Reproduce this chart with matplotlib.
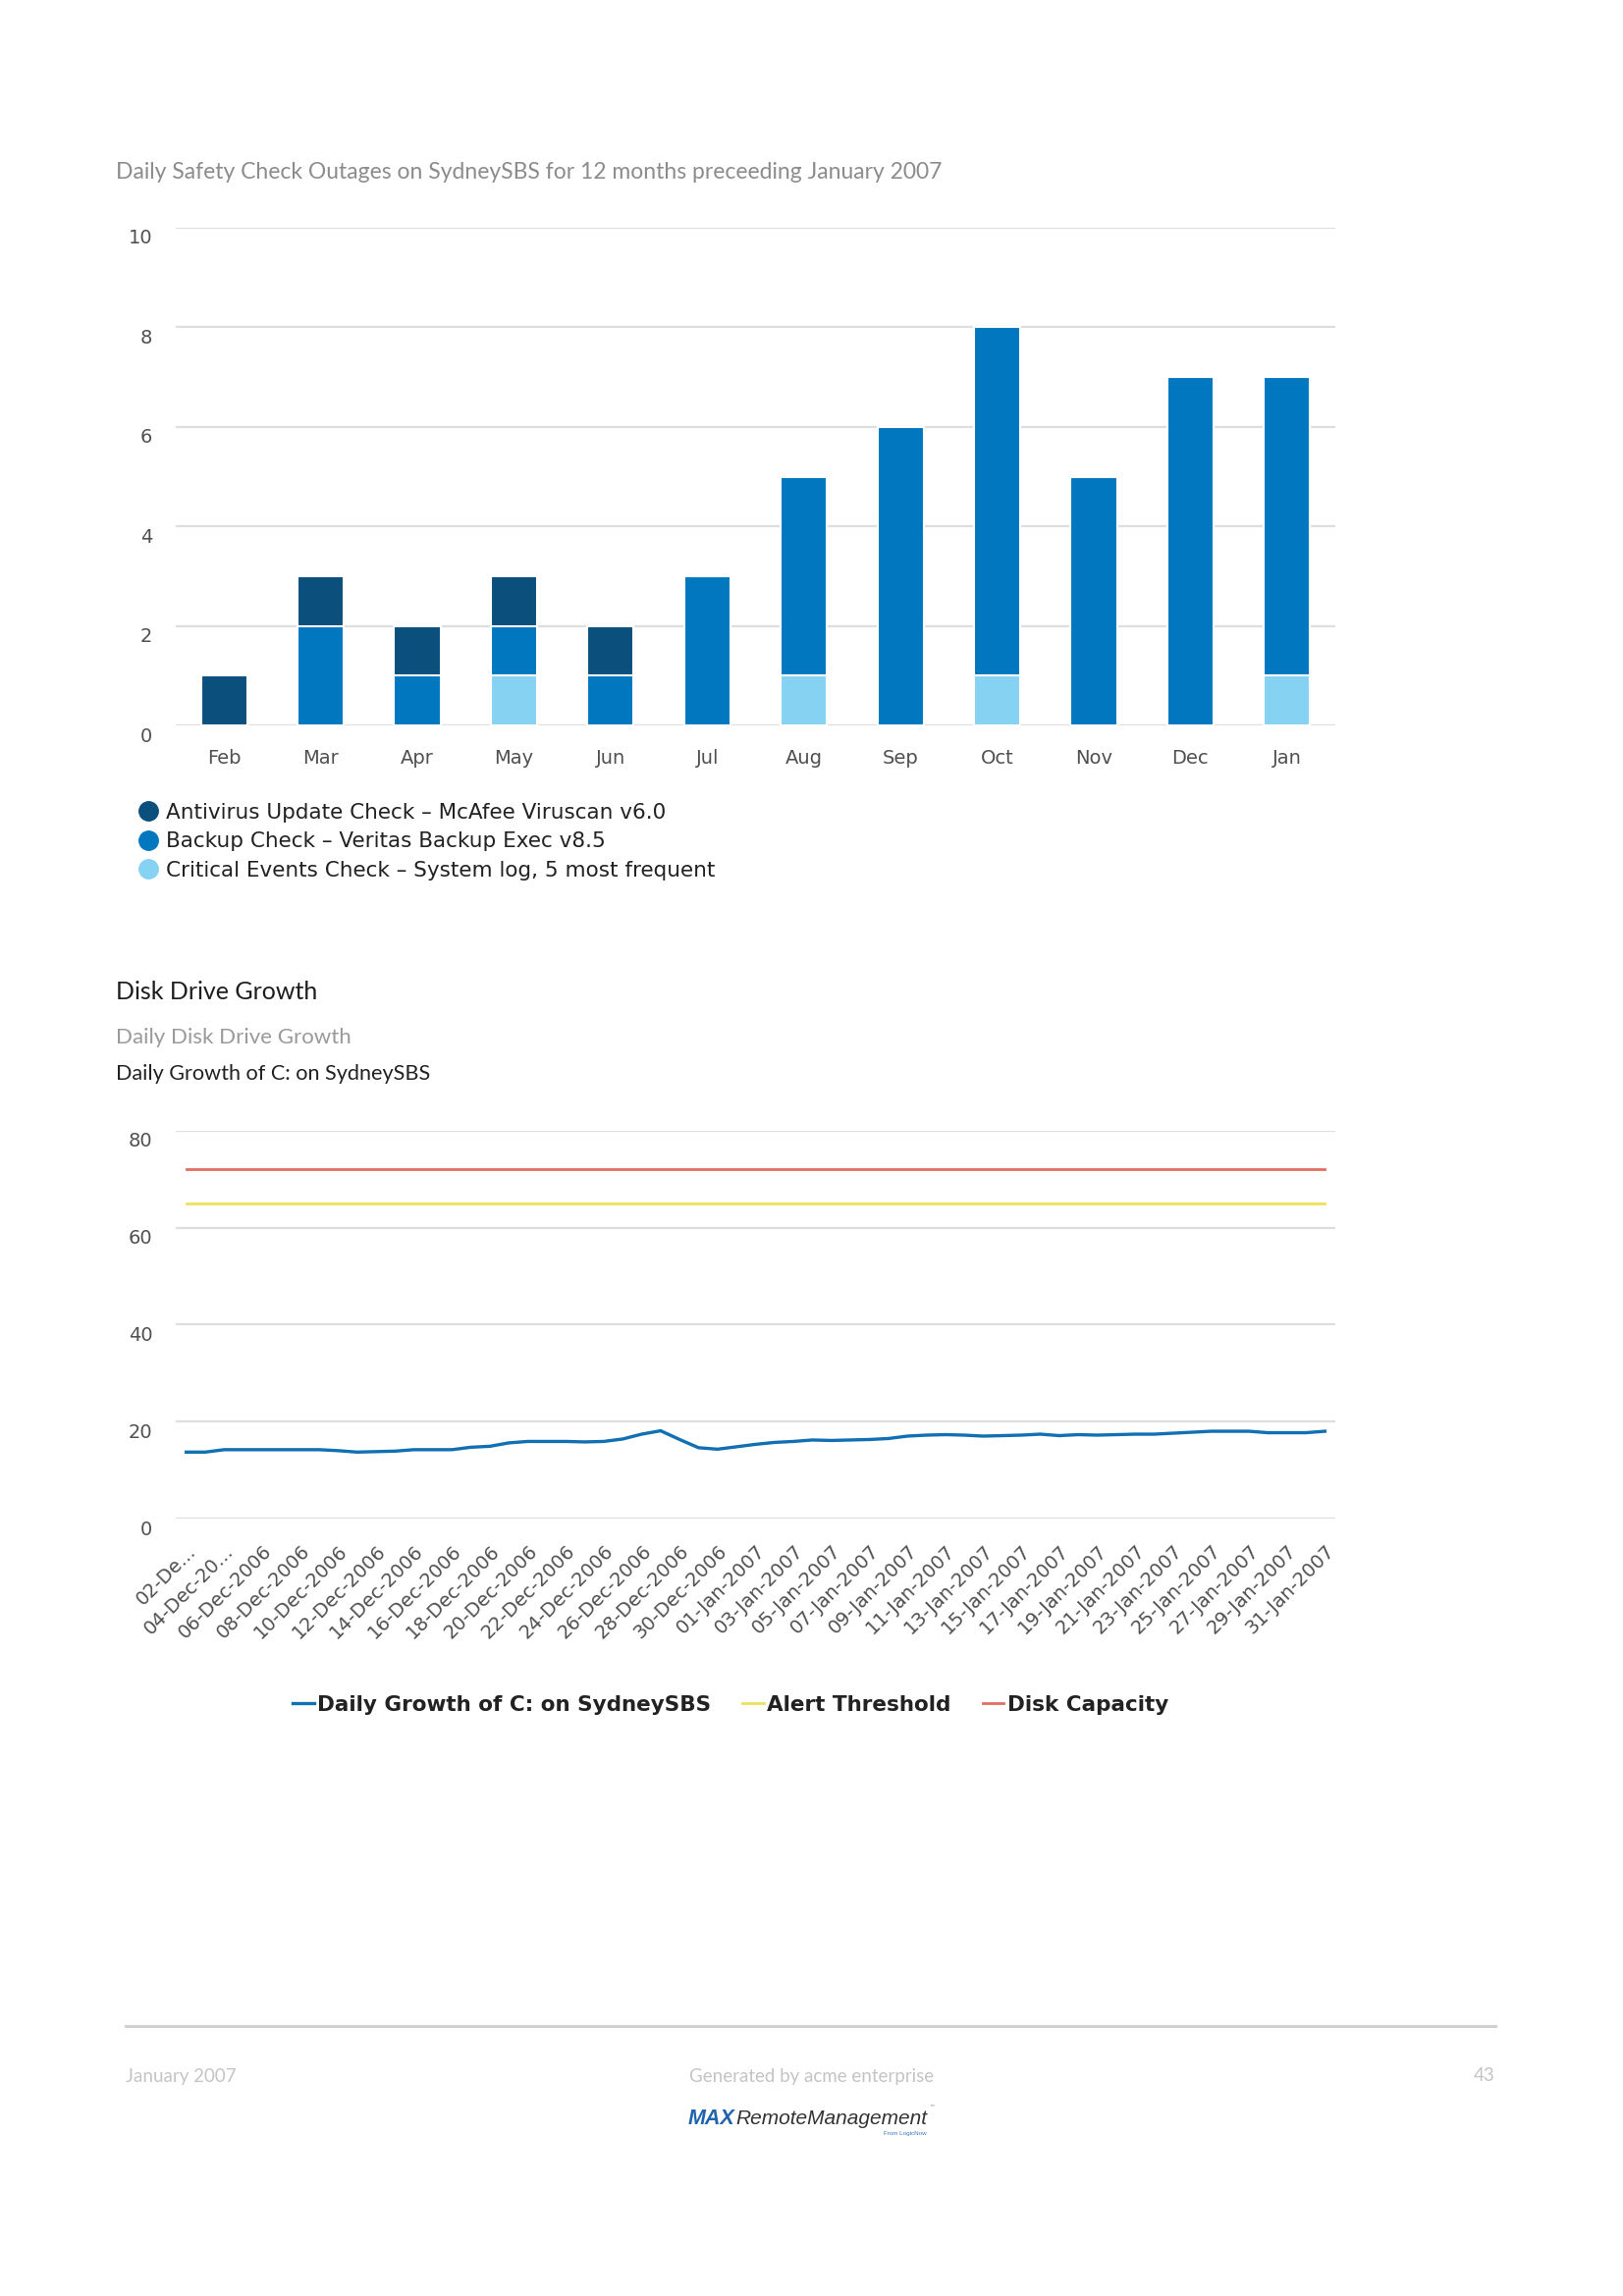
import matplotlib
matplotlib.use("Agg")
import matplotlib.pyplot as plt
from matplotlib.lines import Line2D
from matplotlib.transforms import ScaledTranslation
import numpy as np

# ----------------------------
# DATA
# ----------------------------
months = ["Feb", "Mar", "Apr", "May", "Jun", "Jul",
          "Aug", "Sep", "Oct", "Nov", "Dec", "Jan"]
critical = [0, 0, 0, 1, 0, 0, 1, 0, 1, 0, 0, 1]
backup = [0, 2, 1, 1, 1, 3, 4, 6, 7, 5, 7, 6]
antivirus = [1, 1, 1, 1, 1, 0, 0, 0, 0, 0, 0, 0]
bar_names = ["Antivirus Update Check – McAfee Viruscan v6.0",
             "Backup Check – Veritas Backup Exec v8.5",
             "Critical Events Check – System log, 5 most frequent"]

# daily growth of C: (02-Dec-2006 .. 31-Jan-2007)
growth = [13.7, 13.7, 14.2, 14.2, 14.2, 14.2, 14.2, 14.2, 14.0, 13.7,
          13.8, 13.9, 14.2, 14.2, 14.2, 14.7, 14.9, 15.6, 15.9, 15.9,
          15.9, 15.8, 15.9, 16.4, 17.4, 18.1, 16.3, 14.6, 14.3, 14.8,
          15.3, 15.7, 15.9, 16.2, 16.1, 16.2, 16.3, 16.5, 17.0, 17.2,
          17.3, 17.2, 17.0, 17.1, 17.2, 17.4, 17.1, 17.3, 17.2, 17.3,
          17.4, 17.4, 17.6, 17.8, 18.0, 18.0, 18.0, 17.7, 17.7, 17.7,
          18.0]
alert_threshold = 65
disk_capacity = 72
day_ticks = ["02-De...", "04-Dec-20...", "06-Dec-2006", "08-Dec-2006",
             "10-Dec-2006", "12-Dec-2006", "14-Dec-2006", "16-Dec-2006",
             "18-Dec-2006", "20-Dec-2006", "22-Dec-2006", "24-Dec-2006",
             "26-Dec-2006", "28-Dec-2006", "30-Dec-2006", "01-Jan-2007",
             "03-Jan-2007", "05-Jan-2007", "07-Jan-2007", "09-Jan-2007",
             "11-Jan-2007", "13-Jan-2007", "15-Jan-2007", "17-Jan-2007",
             "19-Jan-2007", "21-Jan-2007", "23-Jan-2007", "25-Jan-2007",
             "27-Jan-2007", "29-Jan-2007", "31-Jan-2007"]

# colours
c_dark, c_mid, c_light = "#0b4f7c", "#0077bf", "#86d2f3"
c_line, c_alert, c_cap = "#1170b3", "#f0df5a", "#e0705f"
grid_c = "#dedede"
tick_c = "#505050"

W, H = 1653, 2339
plt.rcParams["font.family"] = ["DejaVu Sans"]
fig = plt.figure(figsize=(W / 100, H / 100), dpi=100)


def fx(px):
    return px / W


def fy(px):
    return 1 - px / H


def style_axes(ax):
    for s in ax.spines.values():
        s.set_visible(False)
    ax.yaxis.grid(True, color=grid_c, linewidth=1.6)
    ax.set_axisbelow(True)
    ax.tick_params(length=0, colors=tick_c, labelsize=14)
    ax.tick_params(axis="y", pad=17)
    # labels sit a little below their gridline
    off = ScaledTranslation(0, -0.09, fig.dpi_scale_trans)
    for lab in ax.get_yticklabels():
        lab.set_transform(lab.get_transform() + off)


# ----------------------------
# BAR CHART
# ----------------------------
fig.text(fx(118), fy(175), "Daily Safety Check Outages on SydneySBS for 12 months preceeding January 2007",
         family="Lato", fontsize=16.5, color="#8c8c8c", va="center")

ax1 = fig.add_axes([fx(179), fy(739), fx(1181), 507 / H])
x = np.arange(len(months))
bw = 0.48
crit = np.array(critical)
back = np.array(backup)
anti = np.array(antivirus)
ax1.bar(x, crit, bw, color=c_light, edgecolor="white", linewidth=1.5)
ax1.bar(x, back, bw, bottom=crit, color=c_mid, edgecolor="white", linewidth=1.5)
ax1.bar(x, anti, bw, bottom=crit + back, color=c_dark, edgecolor="white", linewidth=1.5)
ax1.set_xlim(-0.5, len(months) - 0.5)
ax1.set_ylim(0, 10)
ax1.set_yticks(range(0, 11, 2))
ax1.set_xticks(x)
ax1.set_xticklabels(months)
style_axes(ax1)
ax1.tick_params(axis="x", pad=17)

handles = [Line2D([], [], marker="o", ls="", color=c, markersize=14)
           for c in (c_dark, c_mid, c_light)]
ax1.legend(handles, bar_names, loc="upper left", bbox_to_anchor=(fx(142), fy(818)),
           bbox_transform=fig.transFigure, frameon=False, handletextpad=0.44,
           labelspacing=0.43, borderpad=0, borderaxespad=0, handlelength=0.8,
           prop={"size": 15.5}, labelcolor="#222222")

# ----------------------------
# LINE CHART
# ----------------------------
fig.text(fx(118), fy(1011), "Disk Drive Growth", family="Lato", fontsize=18,
         color="#1e1e1e", va="center")
fig.text(fx(118), fy(1057), "Daily Disk Drive Growth", family="Lato", fontsize=16,
         color="#9a9a9a", va="center")
fig.text(fx(118), fy(1094), "Daily Growth of C: on SydneySBS", family="Lato", fontsize=15.6,
         color="#222222", va="center")

ax2 = fig.add_axes([fx(179), fy(1547), fx(1181), 395.3 / H])
days = np.arange(len(growth))
ax2.plot(days, growth, color=c_line, linewidth=2.4, label="Daily Growth of C: on SydneySBS")
ax2.plot(days, [alert_threshold] * len(days), color=c_alert, linewidth=2.0, label="Alert Threshold")
ax2.plot(days, [disk_capacity] * len(days), color=c_cap, linewidth=2.0, label="Disk Capacity")
ax2.set_xlim(-0.55, len(days) - 0.45)
ax2.set_ylim(0, 80)
ax2.set_yticks(range(0, 81, 20))
ax2.set_xticks(days[::2])
ax2.set_xticklabels(day_ticks, rotation=45, ha="right", rotation_mode="anchor")
style_axes(ax2)
ax2.tick_params(axis="x", pad=17)

ax2.legend(loc="center", bbox_to_anchor=(fx(744), fy(1737)), bbox_transform=fig.transFigure,
           ncol=3, frameon=False, handlelength=1.0, handletextpad=0.15, columnspacing=1.5,
           borderpad=0, prop={"size": 15.5, "weight": "bold"}, labelcolor="#222222")

# ----------------------------
# FOOTER
# ----------------------------
fig.add_artist(Line2D([fx(128), fx(1523)], [fy(2064), fy(2064)], color="#d0d0d0", linewidth=2.2))
foot = dict(family="Lato", fontsize=13.5, color="#c4c4c4", va="center")
fig.text(fx(128), fy(2115), "January 2007", ha="left", **foot)
fig.text(0.5, fy(2115), "Generated by acme enterprise", ha="center", **foot)
fig.text(fx(1523), fy(2115), "43", ha="right", **foot)

fig.text(fx(748), fy(2158), "MAX", ha="right", va="center", fontsize=15.5, weight="bold",
         style="italic", color="#1f64ad", family="Liberation Sans")
fig.text(fx(749), fy(2158), "RemoteManagement", ha="left", va="center", fontsize=15,
         style="italic", color="#333333", family="Liberation Sans")
fig.text(fx(946), fy(2148), "™", ha="left", va="center", fontsize=4, color="#777777")
fig.text(fx(944), fy(2174), "From LogicNow", ha="right", va="center", fontsize=4.5,
         color="#3a7abf", family="Liberation Sans")

fig.savefig("out.png", dpi=100, facecolor="white")
